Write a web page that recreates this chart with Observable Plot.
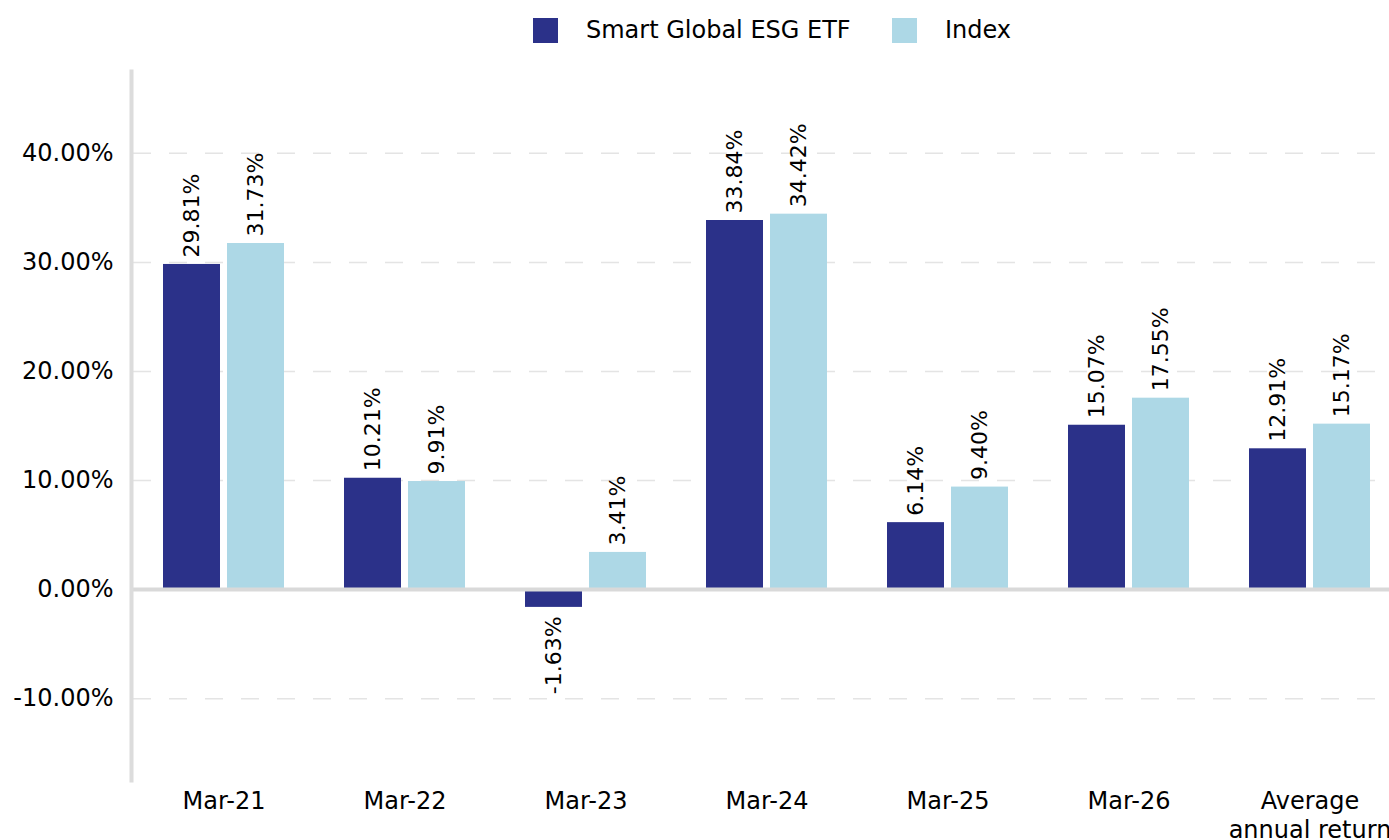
<!DOCTYPE html>
<html>
<head>
<meta charset="utf-8">
<script src="https://cdn.jsdelivr.net/npm/d3@7"></script>
<script src="https://cdn.jsdelivr.net/npm/@observablehq/plot@0.6"></script>
<style>
  html, body { margin: 0; padding: 0; background: #fff; overflow: hidden; }
  body { font-family: "DejaVu Sans", Verdana, sans-serif; color: #000; width: 1389px; height: 840px; }
  #legend { position: relative; height: 60px; font-size: 24px; }
  .sw { position: absolute; top: 18px; width: 25px; height: 25px; }
  .lb { position: absolute; top: 15px; line-height: 30px; white-space: nowrap; }
</style>
</head>
<body>
<div id="legend"></div>
<div id="chart"></div>
<script>
const categories = ["Mar-21", "Mar-22", "Mar-23", "Mar-24", "Mar-25", "Mar-26", "Average\nannual return"];
const etfValues = [29.81, 10.21, -1.63, 33.84, 6.14, 15.07, 12.91];
const indexValues = [31.73, 9.91, 3.41, 34.42, 9.40, 17.55, 15.17];
const seriesNames = ["Smart Global ESG ETF", "Index"];
const seriesColors = ["#2b3189", "#add8e6"];
const yTicks = [-10, 0, 10, 20, 30, 40];
const gridTicks = [-10, 10, 20, 30, 40];

const etf = categories.map((c, i) => ({category: c, series: seriesNames[0], value: etfValues[i]}));
const idx = categories.map((c, i) => ({category: c, series: seriesNames[1], value: indexValues[i]}));
const fmt = d => d.value.toFixed(2) + "%";

// legend
const legend = document.getElementById("legend");
const legendPos = [{sw: 533, lb: 586}, {sw: 892, lb: 945}];
seriesNames.forEach((name, i) => {
  const s = document.createElement("div");
  s.className = "sw"; s.style.left = legendPos[i].sw + "px"; s.style.background = seriesColors[i];
  const l = document.createElement("div");
  l.className = "lb"; l.style.left = legendPos[i].lb + "px"; l.textContent = name;
  legend.appendChild(s); legend.appendChild(l);
});

const chart = Plot.plot({
  width: 1389,
  height: 780,
  marginTop: 11,
  marginBottom: 60,
  marginLeft: 133,
  marginRight: 0,
  style: {fontFamily: "DejaVu Sans, Verdana, sans-serif", fontSize: "24px", color: "#000", background: "#fff", overflow: "visible"},
  x: {domain: categories, range: [133, 1400], padding: 0},
  y: {domain: [-17.5, 47.5]},
  marks: [
    Plot.gridY(gridTicks, {stroke: "#e4e4e4", strokeOpacity: 1, strokeWidth: 1.5, strokeDasharray: "18,18"}),
    Plot.barY(etf, {x: "category", y: "value", fill: seriesColors[0], insetLeft: 30, insetRight: 94}),
    Plot.barY(idx, {x: "category", y: "value", fill: seriesColors[1], insetLeft: 94, insetRight: 30}),
    Plot.ruleY([0], {stroke: "#d9d9d9", strokeWidth: 4}),
    Plot.frame({anchor: "left", stroke: "#dcdcdc", strokeWidth: 4, dx: -2}),
    Plot.text(etf.filter(d => d.value >= 0), {x: "category", y: "value", text: fmt, rotate: -90, textAnchor: "start", dx: -32, dy: -7, fontSize: 22, fill: "#000"}),
    Plot.text(etf.filter(d => d.value < 0), {x: "category", y: "value", text: fmt, rotate: -90, textAnchor: "end", dx: -32, dy: 9, fontSize: 22, fill: "#000"}),
    Plot.text(idx.filter(d => d.value >= 0), {x: "category", y: "value", text: fmt, rotate: -90, textAnchor: "start", dx: 32, dy: -7, fontSize: 22, fill: "#000"}),
    Plot.text(idx.filter(d => d.value < 0), {x: "category", y: "value", text: fmt, rotate: -90, textAnchor: "end", dx: 32, dy: 9, fontSize: 22, fill: "#000"}),
    Plot.axisY(yTicks, {tickSize: 0, tickPadding: 20, tickFormat: d => d.toFixed(2) + "%", fontSize: 24, label: null}),
    Plot.axisX({tickSize: 0, tickPadding: 8, fontSize: 24, lineHeight: 1.2, label: null})
  ]
});
document.getElementById("chart").appendChild(chart);
</script>
</body>
</html>
